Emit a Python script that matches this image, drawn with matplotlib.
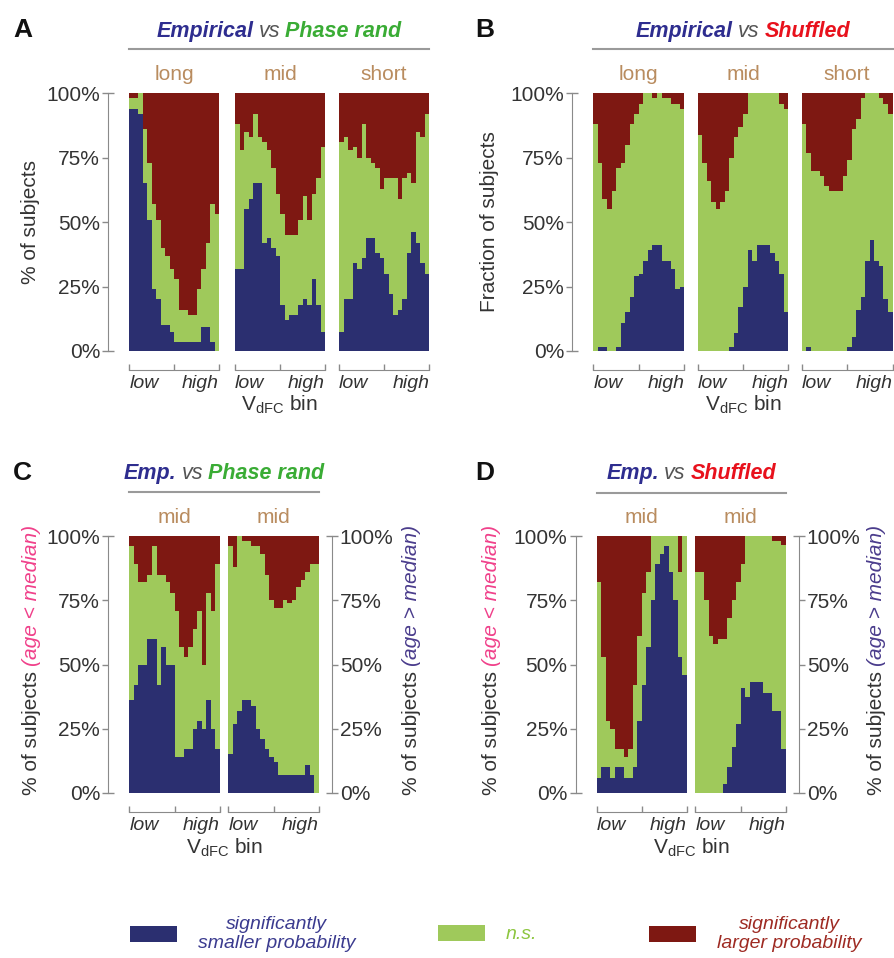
import numpy as np
import matplotlib
matplotlib.use("Agg")
import matplotlib.pyplot as plt
from matplotlib.lines import Line2D
from matplotlib.patches import Patch

plt.rcParams["font.family"] = ["Liberation Sans", "DejaVu Sans"]

# fraction of subjects per VdFC bin (20 bins, low -> high)
# blue = significantly smaller, red = significantly larger, rest n.s.
A_long_blue = [0.94, 0.94, 0.92, 0.65, 0.51, 0.24, 0.20, 0.10, 0.10, 0.075,
               0.036, 0.036, 0.036, 0.036, 0.036, 0.036, 0.095, 0.095, 0.036, 0.0]
A_long_red = [0.02, 0.02, 0.0, 0.14, 0.27, 0.43, 0.49, 0.60, 0.63, 0.68,
              0.72, 0.84, 0.84, 0.86, 0.86, 0.76, 0.68, 0.58, 0.43, 0.47]
A_mid_blue = [0.32, 0.32, 0.55, 0.59, 0.65, 0.65, 0.42, 0.44, 0.40, 0.37,
              0.18, 0.12, 0.14, 0.14, 0.18, 0.20, 0.18, 0.28, 0.18, 0.075]
A_mid_red = [0.12, 0.22, 0.15, 0.17, 0.08, 0.17, 0.19, 0.22, 0.29, 0.39,
             0.47, 0.55, 0.55, 0.55, 0.49, 0.40, 0.49, 0.39, 0.33, 0.21]
A_short_blue = [0.075, 0.20, 0.20, 0.34, 0.32, 0.36, 0.44, 0.44, 0.38, 0.36,
                0.30, 0.22, 0.14, 0.16, 0.20, 0.38, 0.46, 0.42, 0.34, 0.30]
A_short_red = [0.19, 0.17, 0.22, 0.21, 0.25, 0.12, 0.25, 0.27, 0.29, 0.37,
               0.33, 0.33, 0.33, 0.41, 0.33, 0.31, 0.35, 0.15, 0.17, 0.08]

B_long_blue = [0.0, 0.017, 0.017, 0.0, 0.0, 0.017, 0.11, 0.15, 0.21, 0.29,
               0.30, 0.35, 0.39, 0.41, 0.41, 0.35, 0.35, 0.32, 0.24, 0.25]
B_long_red = [0.12, 0.27, 0.41, 0.45, 0.38, 0.29, 0.27, 0.20, 0.12, 0.08,
              0.04, 0.0, 0.0, 0.02, 0.0, 0.02, 0.02, 0.04, 0.04, 0.06]
B_mid_blue = [0.0, 0.0, 0.0, 0.0, 0.0, 0.0, 0.0, 0.017, 0.07, 0.17,
              0.25, 0.39, 0.35, 0.41, 0.41, 0.41, 0.38, 0.35, 0.30, 0.15]
B_mid_red = [0.16, 0.27, 0.34, 0.42, 0.45, 0.42, 0.38, 0.25, 0.17, 0.13,
             0.08, 0.0, 0.0, 0.0, 0.0, 0.0, 0.0, 0.0, 0.04, 0.06]
B_short_blue = [0.0, 0.017, 0.0, 0.0, 0.0, 0.0, 0.0, 0.0, 0.0, 0.0,
                0.017, 0.056, 0.16, 0.21, 0.35, 0.43, 0.35, 0.33, 0.20, 0.15]
B_short_red = [0.12, 0.23, 0.30, 0.30, 0.32, 0.36, 0.38, 0.38, 0.38, 0.32,
               0.26, 0.14, 0.10, 0.02, 0.0, 0.0, 0.0, 0.02, 0.04, 0.08]

C_young_blue = [0.36, 0.42, 0.50, 0.50, 0.60, 0.60, 0.42, 0.57, 0.50, 0.50,
                0.14, 0.14, 0.17, 0.17, 0.25, 0.28, 0.25, 0.36, 0.25, 0.17]
C_young_red = [0.04, 0.11, 0.18, 0.18, 0.15, 0.04, 0.15, 0.15, 0.18, 0.22,
               0.29, 0.43, 0.47, 0.43, 0.36, 0.29, 0.50, 0.22, 0.29, 0.11]
C_old_blue = [0.15, 0.27, 0.32, 0.36, 0.36, 0.34, 0.25, 0.21, 0.17, 0.14,
              0.12, 0.07, 0.07, 0.07, 0.07, 0.07, 0.07, 0.11, 0.07, 0.0]
C_old_red = [0.04, 0.12, 0.0, 0.02, 0.02, 0.04, 0.04, 0.07, 0.15, 0.25,
             0.28, 0.28, 0.25, 0.26, 0.25, 0.20, 0.17, 0.14, 0.11, 0.11]

D_young_blue = [0.06, 0.10, 0.10, 0.06, 0.10, 0.10, 0.06, 0.06, 0.10, 0.28,
                0.42, 0.57, 0.75, 0.89, 0.93, 0.96, 0.86, 0.75, 0.53, 0.46]
D_young_red = [0.18, 0.47, 0.72, 0.75, 0.83, 0.83, 0.86, 0.83, 0.58, 0.39,
               0.22, 0.14, 0.0, 0.0, 0.0, 0.0, 0.0, 0.0, 0.14, 0.0]
D_old_blue = [0.0, 0.0, 0.0, 0.0, 0.0, 0.0, 0.034, 0.10, 0.18, 0.27,
              0.41, 0.375, 0.43, 0.43, 0.43, 0.39, 0.39, 0.32, 0.32, 0.17]
D_old_red = [0.14, 0.14, 0.25, 0.39, 0.42, 0.40, 0.40, 0.32, 0.25, 0.18,
             0.11, 0.0, 0.0, 0.0, 0.0, 0.0, 0.0, 0.02, 0.02, 0.035]

y_ticks = [0, 0.25, 0.5, 0.75, 1.0]
y_tick_labels = ["0%", "25%", "50%", "75%", "100%"]

NAVY = "#2b2f70"
GREEN = "#9fc95b"
RED = "#7e1812"
GRAY = "#8a8a8a"
TXT = "#333333"
TAN = "#b98c5f"
T_BLUE = "#2e2d8f"
T_GREEN = "#3aac35"
T_RED = "#e8111c"

W, H = 894, 958
fig = plt.figure(figsize=(W / 100, H / 100), dpi=100)
R = fig.canvas.get_renderer()


def box(x0, x1, y0, y1):
    return [x0 / W, 1 - y1 / H, (x1 - x0) / W, (y1 - y0) / H]


def strip(pos, blue, red, label):
    ax = fig.add_axes(pos)
    blue = np.asarray(blue, float)
    red = np.asarray(red, float)
    n = len(blue)
    edges = np.arange(n + 1)
    ones = np.ones(n)
    ax.stairs(ones, edges, baseline=0, fill=True, color=GREEN, lw=0)
    ax.stairs(blue, edges, baseline=0, fill=True, color=NAVY, lw=0)
    ax.stairs(ones, edges, baseline=1 - red, fill=True, color=RED, lw=0)
    ax.set_xlim(0, n)
    ax.set_ylim(0, 1)
    for s in ax.spines.values():
        s.set_visible(False)
    ax.set_yticks([])
    sp = ax.spines["bottom"]
    sp.set_visible(True)
    sp.set_position(("outward", 13.5))
    sp.set_color(GRAY)
    ax.set_xticks([0, n / 2, n], ["low", "", "high"])
    ax.tick_params(axis="x", direction="in", length=4, width=1, color=GRAY,
                   labelsize=14, pad=4, labelcolor=TXT)
    labs = ax.get_xticklabels()
    for t in labs:
        t.set_style("italic")
    labs[0].set_ha("left")
    labs[-1].set_ha("right")
    ax.set_title(label, color=TAN, fontsize=15, pad=9.5)
    return ax


def yscale(ax, side, offset):
    sp = ax.spines[side]
    sp.set_visible(True)
    sp.set_position(("outward", offset))
    sp.set_color(GRAY)
    ax.yaxis.set_ticks_position(side)
    ax.yaxis.remove_overlapping_locs = False
    ax.set_yticks(y_ticks, y_tick_labels)
    ax.set_yticks([0, 1], minor=True)
    ax.tick_params(axis="y", which="major", direction="out", length=4, width=1,
                   color=GRAY, labelsize=15, pad=2, labelcolor=TXT)
    ax.tick_params(axis="y", which="minor", direction="in", length=4, width=1,
                   color=GRAY)


def row_text(xc, y, pieces, gap=5):
    ts = [fig.text(0, 1 - y / H, s, ha="left", va="baseline", **kw) for s, kw in pieces]
    ws = [t.get_window_extent(R).width for t in ts]
    x = xc - (sum(ws) + gap * (len(ws) - 1)) / 2
    for t, w in zip(ts, ws):
        t.set_x(x / W)
        x += w + gap


def col_text(xb, yc, pieces, gap=5):
    ts = [fig.text(xb / W, 0, s, rotation=90, rotation_mode="anchor",
                   ha="left", va="baseline", **kw) for s, kw in pieces]
    hs = [t.get_window_extent(R).height for t in ts]
    y = (H - yc) - (sum(hs) + gap * (len(hs) - 1)) / 2
    for t, h in zip(ts, hs):
        t.set_y(y / H)
        y += h + gap


def group(axes, title, letter, letter_y, title_y, line_y, xlabel_y):
    x0 = axes[0].get_position().x0 * W
    x1 = axes[-1].get_position().x1 * W
    xc = (x0 + x1) / 2
    fig.add_artist(Line2D([x0 / W, x1 / W], [1 - line_y / H] * 2, color="#9a9a9a", lw=1.5))
    row_text(xc, title_y, title)
    fig.text(letter[1] / W, 1 - letter_y / H, letter[0], fontsize=19,
             fontweight="bold", va="baseline", color="#111111")
    fig.text(xc / W, 1 - xlabel_y / H, r"V$_{\mathregular{dFC}}$ bin", ha="center",
             va="baseline", fontsize=15, color=TXT)


def title_pieces(a, b, b_color):
    it = dict(fontsize=15.5, fontweight="bold", style="italic")
    return [(a, dict(color=T_BLUE, **it)),
            ("vs", dict(fontsize=15.5, style="italic", color="#555555")),
            (b, dict(color=b_color, **it))]


top = (93.3, 351)
A_axes = [strip(box(129.3, 219, *top), A_long_blue, A_long_red, "long"),
          strip(box(235, 325, *top), A_mid_blue, A_mid_red, "mid"),
          strip(box(339, 429.3, *top), A_short_blue, A_short_red, "short")]
B_axes = [strip(box(593.3, 684.3, *top), B_long_blue, B_long_red, "long"),
          strip(box(697.7, 788.3, *top), B_mid_blue, B_mid_red, "mid"),
          strip(box(801.7, 892.5, *top), B_short_blue, B_short_red, "short")]
bot = (536, 793)
C_axes = [strip(box(129.3, 220, *bot), C_young_blue, C_young_red, "mid"),
          strip(box(228.3, 319, *bot), C_old_blue, C_old_red, "mid")]
D_axes = [strip(box(596.7, 686.7, *bot), D_young_blue, D_young_red, "mid"),
          strip(box(695.3, 786, *bot), D_old_blue, D_old_red, "mid")]

yscale(A_axes[0], "left", 15)
yscale(B_axes[0], "left", 15)
yscale(C_axes[0], "left", 15)
yscale(D_axes[0], "left", 15)
yscale(C_axes[1], "right", 9)
yscale(D_axes[1], "right", 9)

group(A_axes, title_pieces("Empirical", "Phase rand", T_GREEN), ("A", 13), 37, 37, 49, 410)
group(B_axes, title_pieces("Empirical", "Shuffled", T_RED), ("B", 475), 37, 37, 49, 410)
group(C_axes, title_pieces("Emp.", "Phase rand", T_GREEN), ("C", 13), 480, 479, 492, 853)
group(D_axes, title_pieces("Emp.", "Shuffled", T_RED), ("D", 475), 480, 479, 493, 853)

fig.text(30 / W, 1 - 222 / H, "% of subjects", rotation=90, ha="center", va="center",
         fontsize=15, color=TXT)
fig.text(490 / W, 1 - 222 / H, "Fraction of subjects", rotation=90, ha="center",
         va="center", fontsize=15, color=TXT)

PINK = "#f0408a"
PURPLE = "#4a3c8c"
lab = dict(fontsize=15, color=TXT)
young = [("% of subjects", lab), ("(age < median)", dict(fontsize=15, style="italic", color=PINK))]
old = [("% of subjects", lab), ("(age > median)", dict(fontsize=15, style="italic", color=PURPLE))]
col_text(37, 660, young)
col_text(417, 660, old)
col_text(497, 660, young)
col_text(882, 660, old)

# legend
legend_items = [(NAVY, "significantly\nsmaller probability", "#3b3b8f", 130),
                (GREEN, "n.s.", "#8dc63f", 438),
                (RED, "significantly\nlarger probability", "#9e2a22", 649)]
for face, text, tcolor, x in legend_items:
    leg = fig.legend(handles=[Patch(facecolor=face, edgecolor="none")], labels=[text],
                     loc="center left", bbox_to_anchor=(x / W, 1 - 934 / H),
                     frameon=False, handlelength=2.4, handleheight=0.9,
                     handletextpad=1.1, borderpad=0, borderaxespad=0,
                     prop=dict(size=14, style="italic"), labelcolor=tcolor)
    for t in leg.get_texts():
        t.set_multialignment("center")

fig.savefig("out.png", dpi=100)
